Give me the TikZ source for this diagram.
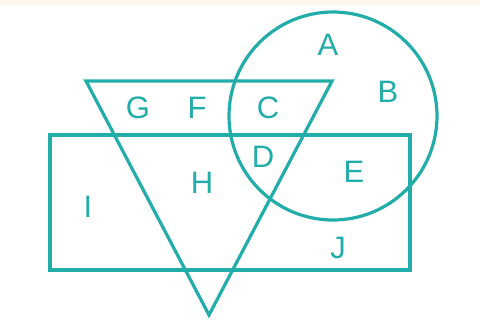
\documentclass[tikz,border=0pt]{standalone}
\usepackage{fontspec}
\setmainfont{Liberation Sans}
\definecolor{teal1}{RGB}{34,172,170}
\definecolor{cream}{RGB}{253,246,238}
\begin{document}
\begin{tikzpicture}[x=1pt,y=-1pt,
  shapeline/.style={draw=teal1,line width=3.2pt,line join=miter},
  lbl/.style={text=teal1,font=\fontsize{31}{31}\selectfont,inner sep=0pt}]
\useasboundingbox (0,0) rectangle (480,325);
\fill[white] (0,0) rectangle (480,325);
\fill[cream] (0,0) rectangle (480,5);
\coordinate (t1) at (86,81);
\coordinate (t2) at (332,81);
\coordinate (t3) at (209,315);
\draw[shapeline] (t1) -- (t2) -- (t3) -- cycle;
\draw[shapeline] (50,135) rectangle (410,270);
\draw[shapeline] (333,116) circle (104);
\node[lbl] (A) at (328,45) {A};
\node[lbl] (B) at (388,92) {B};
\node[lbl] (G) at (138,108) {G};
\node[lbl] (F) at (197,108) {F};
\node[lbl] (C) at (268,108) {C};
\node[lbl] (D) at (263,157) {D};
\node[lbl] (E) at (354,172) {E};
\node[lbl] (H) at (202,183) {H};
\node[lbl] (I) at (88,207) {I};
\node[lbl] (J) at (338,248) {J};
\end{tikzpicture}
\end{document}
